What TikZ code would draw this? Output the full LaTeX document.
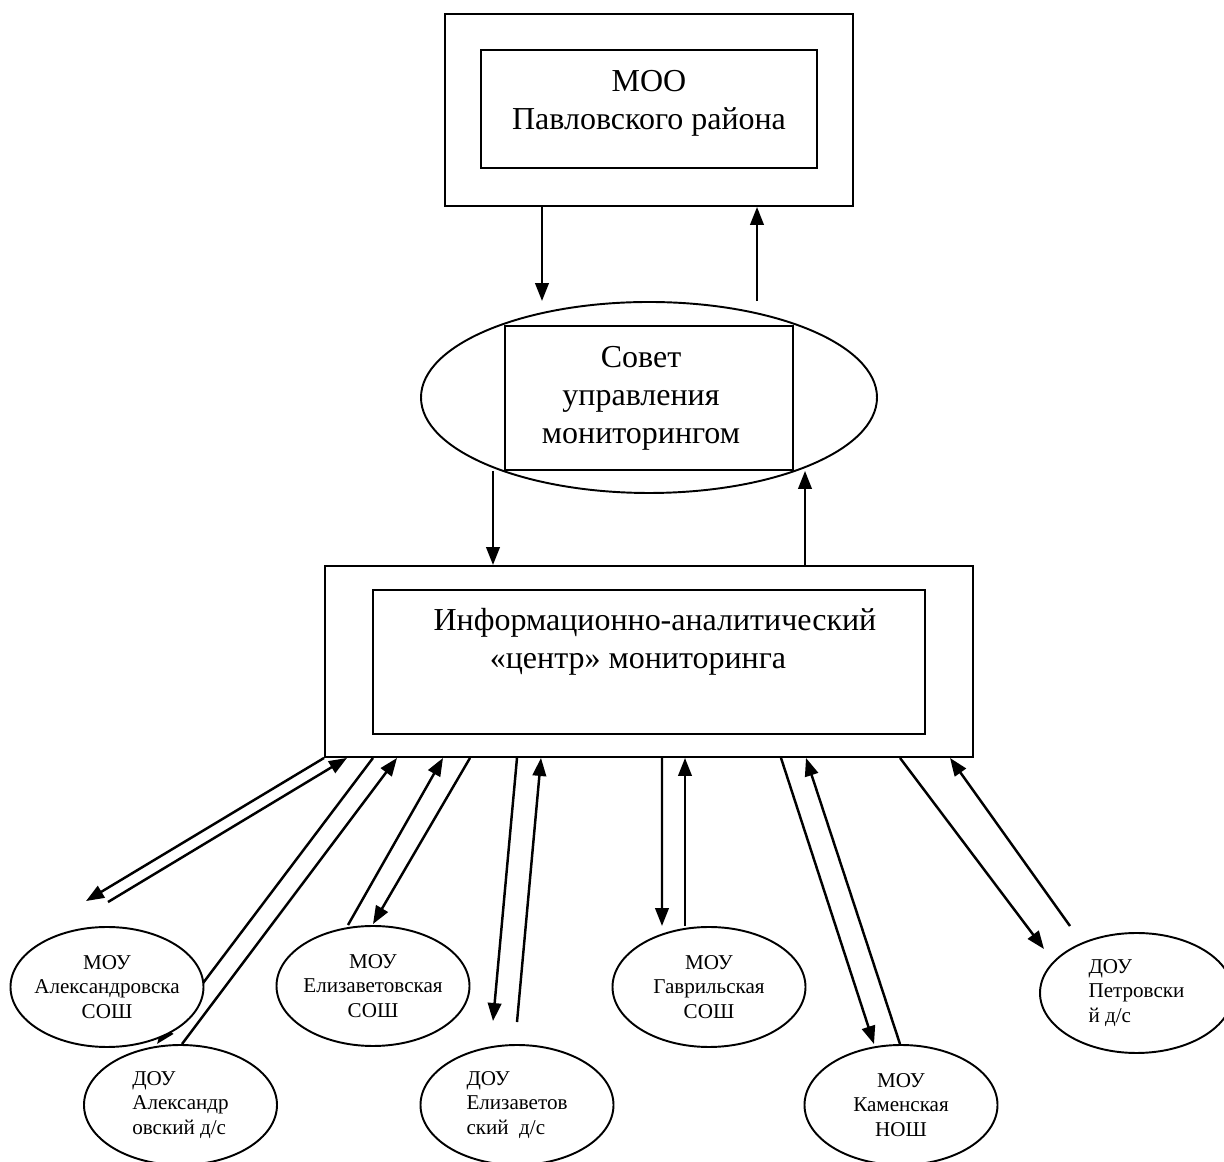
\documentclass[tikz,border=0pt]{standalone}
\usepackage{fontspec}
\setmainfont{Liberation Serif}
\usetikzlibrary{shapes.geometric, arrows.meta, backgrounds}

\tikzset{
    box/.style={draw, fill=white, line width=1.1pt},
    oval/.style={draw, fill=white, ellipse, line width=1.1pt, inner sep=0pt, minimum width=3.86cm, minimum height=2.4cm},
    arr/.style={-{Triangle[length=0.36cm,width=0.27cm]}, line width=1.4pt},
    big/.style={font=\fontsize{18.2}{21.6}\selectfont, align=center},
    small/.style={font=\fontsize{12}{13.9}\selectfont}
}

\begin{document}
\begin{tikzpicture}
    \useasboundingbox (0,0) rectangle (24.48,23.24);
    \node[box, minimum width=8.16cm, minimum height=3.84cm] (moo) at (12.98,21.04) {};
    \node[box, minimum width=6.72cm, minimum height=2.36cm] (mooin) at (12.98,21.06) {};
    \node[big] (mootxt) at (12.98,21.18) {МОО\\Павловского района};

    \node[box, ellipse, minimum width=9.12cm, minimum height=3.82cm] (sovet) at (12.98,15.29) {};
    \node[box, minimum width=5.76cm, minimum height=2.88cm] (sovetin) at (12.98,15.28) {};
    \node[big] (sovettxt) at (12.82,15.28) {Совет\\управления\\мониторингом};

    \node[box, minimum width=12.96cm, minimum height=3.82cm] (info) at (12.98,10.01) {};
    \node[box, minimum width=11.04cm, minimum height=2.88cm] (infoin) at (12.98,10.00) {};
    \node[big] (infotxt) at (13.10,10.40) {Информационно-аналитический\\«центр» мониторинга\hspace*{0.68cm}};

    \node[oval, label={[small, align=center]center:{МОУ\\Александровска\\СОШ}}] (mou1) at (2.14,3.50) {};
    \node[oval, label={[small, align=left]center:{ДОУ\\Александр\\овский д/с}}] (dou1) at (3.61,1.14) {};
    \node[oval, label={[small, align=center]center:{МОУ\\Елизаветовская\\СОШ}}] (mou2) at (7.46,3.52) {};
    \node[oval, label={[small, align=left]center:{ДОУ\\Елизаветов\\ский\ \ д/с}}] (dou2) at (10.34,1.14) {};
    \node[oval, label={[small, align=center]center:{МОУ\\Гаврильская\\СОШ}}] (mou3) at (14.18,3.50) {};
    \node[oval, label={[small, align=center]center:{МОУ\\Каменская\\НОШ}}] (mou4) at (18.02,1.14) {};
    \node[oval, label={[small, align=left]center:{ДОУ\\Петровски\\й д/с}}] (dou3) at (22.73,3.38) {};

    \begin{scope}[on background layer]
    \draw[arr] (10.84,0 |- moo.south) -- (10.84,0 |- sovet.north);
    \draw[arr] (15.14,0 |- sovet.north) -- (15.14,0 |- moo.south);
    \draw[arr] (9.86,0 |- sovetin.south) -- (9.86,0 |- info.north);
    \draw[arr] (16.10,0 |- info.north) -- (16.10,0 |- sovetin.south);

    \draw[arr] (info.south west) -- ([xshift=-0.42cm,yshift=0.5cm]mou1.north);
    \draw[arr] ([xshift=0.02cm,yshift=0.48cm]mou1.north) -- (6.94,0 |- info.south);
    \draw[arr] (7.46,0 |- info.south) -- ([xshift=-0.47cm]dou1.north);
    \draw[arr] ([xshift=0.03cm]dou1.north) -- (7.94,0 |- info.south);
    \draw[arr] ([xshift=-0.50cm]mou2.north) -- (8.86,0 |- info.south);
    \draw[arr] (9.40,0 |- info.south) -- ([yshift=0.02cm]mou2.north);
    \draw[arr] (10.34,0 |- info.south) -- ([xshift=-0.48cm,yshift=0.46cm]dou2.north);
    \draw[arr] ([yshift=0.44cm]dou2.north) -- (10.82,0 |- info.south);
    \draw[arr] (13.24,0 |- info.south) -- ([xshift=-0.94cm]mou3.north);
    \draw[arr] ([xshift=-0.48cm]mou3.north) -- (13.70,0 |- info.south);
    \draw[arr] (15.62,0 |- info.south) -- ([xshift=-0.54cm]mou4.north);
    \draw[arr] ([xshift=-0.02cm]mou4.north) -- (16.12,0 |- info.south);
    \draw[arr] (18.00,0 |- info.south) -- ([xshift=-1.85cm,yshift=-0.34cm]dou3.north);
    \draw[arr] ([xshift=-1.33cm,yshift=0.12cm]dou3.north) -- (19.00,0 |- info.south);
    \end{scope}
\end{tikzpicture}
\end{document}
